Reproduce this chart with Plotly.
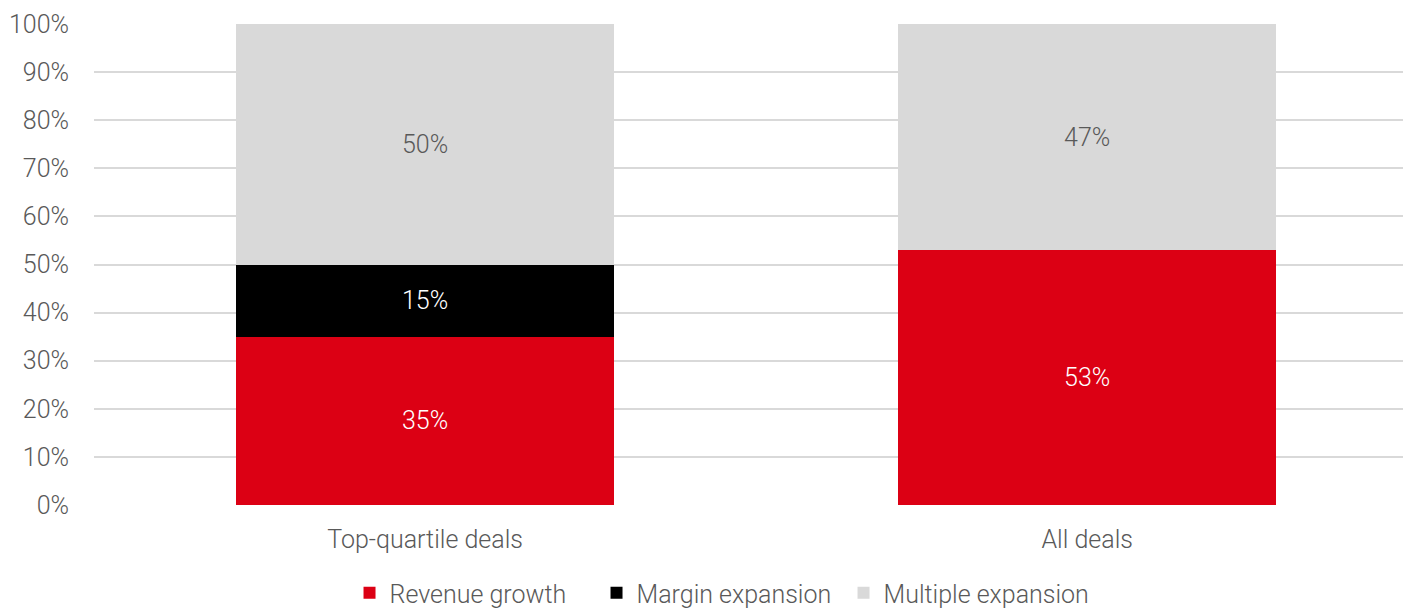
import plotly.graph_objects as go

categories = ["Top-quartile deals", "All deals"]
revenue_growth = [0.35, 0.53]
margin_expansion = [0.15, 0.0]
multiple_expansion = [0.50, 0.47]

series = [
    ("Revenue growth", revenue_growth, "#DC0014", "#FFFFFF"),
    ("Margin expansion", margin_expansion, "#000000", "#FFFFFF"),
    ("Multiple expansion", multiple_expansion, "#D9D9D9", "#595959"),
]

FONT = "Roboto"
FS = 25
fig = go.Figure()
for name, vals, color, tcolor in series:
    fig.add_trace(go.Bar(
        name=name, x=categories, y=vals,
        marker=dict(color=color, line=dict(width=0)),
        width=0.571,
        text=[f"{round(v*100)}%" if v > 0 else "" for v in vals],
        textposition="inside", insidetextanchor="middle",
        textfont=dict(family=FONT, size=FS, color=tcolor, weight=300),
        hoverinfo="skip",
    ))

# page body has an 8px default margin, so the figure is 1403x600 offset by 8px
fig.update_layout(
    barmode="stack",
    width=1403, height=600,
    margin=dict(l=86, r=0, t=16, b=103, autoexpand=False),
    paper_bgcolor="white", plot_bgcolor="white",
    font=dict(family=FONT, size=FS, color="#595959", weight=300),
    legend=dict(orientation="h", xref="container", x=0.5075, xanchor="center",
                y=-0.183, yanchor="middle",
                font=dict(family=FONT, size=FS, color="#595959", weight=300),
                traceorder="normal", itemwidth=30, tracegroupgap=0,
                entrywidth=202, entrywidthmode="pixels"),
    showlegend=True,
)
fig.update_xaxes(range=[-0.5, 1.489], showgrid=False, showline=False, automargin=False,
                 ticks="outside", ticklen=12, tickcolor="rgba(0,0,0,0)",
                 tickfont=dict(family=FONT, size=FS, color="#595959", weight=300))
fig.update_yaxes(range=[0, 1], dtick=0.1, tickformat=".0%", showgrid=True, automargin=False,
                 gridcolor="#D9D9D9", gridwidth=1.5, zeroline=False, showline=False,
                 ticks="outside", ticklen=19, tickcolor="rgba(0,0,0,0)",
                 tickfont=dict(family=FONT, size=FS, color="#595959", weight=300))

fig.write_html("out.html")
